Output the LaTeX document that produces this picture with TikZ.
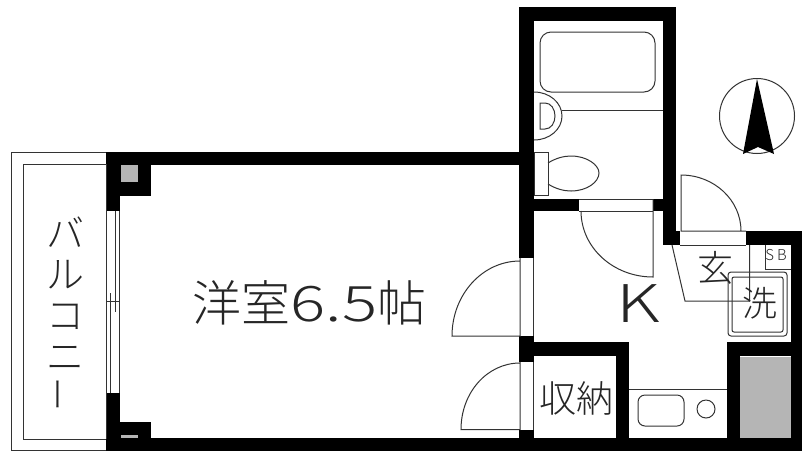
\documentclass[tikz,border=0pt]{standalone}
\usepackage{fontspec}
\usepackage{graphicx}
\setmainfont{Noto Sans CJK JP}[UprightFont=* Light]
\tikzset{
  wall/.style={fill=black,draw=none},
  thin line/.style={draw=black!80,line width=1pt},
  gray fill/.style={fill=black!29,draw=none},
  label text/.style={inner sep=0pt,text=black!85}
}
\begin{document}
\begin{tikzpicture}[x=1pt,y=-1pt]
\useasboundingbox (0,0) rectangle (802,451);
\fill[white] (0,0) rectangle (802,451);
% balcony
\draw[thin line] (106,450) -- (11,450) -- (11,152) -- (106,152);
\draw[thin line] (106,164) -- (23,164) -- (23,439) -- (106,439);
% walls
\fill[wall] (106,152) rectangle (519,165);
\fill[wall] (106,152) rectangle (151,196);
\fill[wall] (106,152) rectangle (120,211);
\fill[wall] (106,393) rectangle (120,451);
\fill[wall] (106,422) rectangle (151,451);
\fill[wall] (106,438) rectangle (802,451);
\fill[wall] (519,7) rectangle (676,21);
\fill[wall] (519,7) rectangle (534,258);
\fill[wall] (663,7) rectangle (676,245);
\fill[wall] (663,231) rectangle (680,245);
\fill[wall] (534,199) rectangle (579,211);
\fill[wall] (653,199) rectangle (663,211);
\fill[wall] (519,336) rectangle (534,362);
\fill[wall] (519,430) rectangle (534,440);
\fill[wall] (534,342) rectangle (629,356);
\fill[wall] (616,342) rectangle (629,440);
\fill[wall] (746,231) rectangle (802,245);
\fill[wall] (791,231) rectangle (802,451);
\fill[wall] (727,342) rectangle (802,356);
\fill[wall] (727,342) rectangle (740,440);
% gray
\fill[gray fill] (121,165) rectangle (138,182);
\fill[gray fill] (121,435) rectangle (138,438);
\fill[gray fill] (740,357) rectangle (791,438);
% window
\draw[thin line] (106.5,164) -- (106.5,439);
\draw[thin line] (119.5,211) -- (119.5,393);
\draw[thin line] (115,211) -- (115,312);
\draw[thin line] (110,293) -- (110,393);
\draw[thin line] (106,301) -- (120,301);
% doors
\draw[thin line] (520,258) -- (520,336) -- (452,336) .. controls (452,294.6) and (482.4,261) .. (520,261);
\draw[thin line] (533.5,258) -- (533.5,336);
\draw[thin line] (520,362) -- (520,429.5) -- (461,429.5) .. controls (461,392.3) and (487.4,363) .. (520,363);
\draw[thin line] (533.5,362) -- (533.5,430);
\draw[thin line] (579,199) -- (653,199);
\draw[thin line] (579,211) -- (653,211);
\draw[thin line] (653,199) -- (653,277) .. controls (613.2,277) and (581,247.5) .. (581,211);
\draw[thin line] (741,231) .. controls (741,200) and (714,175) .. (681,175) -- (681,231) -- (746,231);
\draw[thin line] (680,245) -- (746,245);
% bath
\draw[thin line,rounded corners=11pt] (540,32) rectangle (655,92);
\draw[thin line] (562,110) -- (663,110);
\draw[thin line] (534,92) .. controls (549.5,92) and (562,102.7) .. (562,116) .. controls (562,129.3) and (549.5,140) .. (534,140);
\draw[thin line] (540,103) -- (545,103) .. controls (551,103) and (555,109) .. (555,116) .. controls (555,123) and (551,129) .. (545,129) -- (540,129) -- cycle;
\draw[thin line] (534,152) rectangle (548,195);
\draw[thin line] (548,163) .. controls (556,158) and (564,156) .. (571,156) .. controls (587,156) and (599,165) .. (599,173) .. controls (599,182) and (587,191) .. (571,191) .. controls (564,191) and (556,189) .. (548,184);
% genkan
\draw[thin line] (672,245) -- (685,301) -- (749.5,301) -- (749.5,245);
\draw[thin line] (765,245) -- (765,269) -- (791,269);
\draw[thin line,rounded corners=3pt] (728,272) rectangle (787,336);
\draw[thin line,rounded corners=2pt] (732,277) rectangle (783,332);
% kitchen
\draw[thin line] (629,389) -- (727,389);
\draw[thin line,rounded corners=7pt] (638,395) rectangle (684,426);
\draw[thin line] (706,409) circle[radius=9pt];
% north
\draw[thin line] (757,116) circle[radius=37.5pt];
\fill[black] (757,79) -- (774,154) -- (758,147) -- (743,154) -- cycle;
% text
\node[label text,font=\fontsize{49}{49}\selectfont] (room) at (309.5,303) {洋室\scalebox{1.34}[1]{6.5}帖};
\node[label text,font=\fontsize{52}{52}\selectfont] (k) at (638,304) {\scalebox{1.35}[1]{K}};
\node[label text,font=\fontsize{37}{37}\selectfont] (shuno) at (576,398) {収納};
\node[label text,font=\fontsize{36}{36}\selectfont] (gen) at (715,268) {玄};
\node[label text,font=\fontsize{35}{35}\selectfont] (sen) at (760,303) {洗};
\node[label text,font=\fontsize{15}{15}\selectfont] (sb) at (776,255) {S\hspace{3pt}B};
\node[label text,font=\fontsize{38}{41}\selectfont,align=center] (bal) at (65,314) {バ\\ル\\コ\\ニ\\\rotatebox{90}{\scalebox{0.9}[1]{ー}}};
\end{tikzpicture}
\end{document}
